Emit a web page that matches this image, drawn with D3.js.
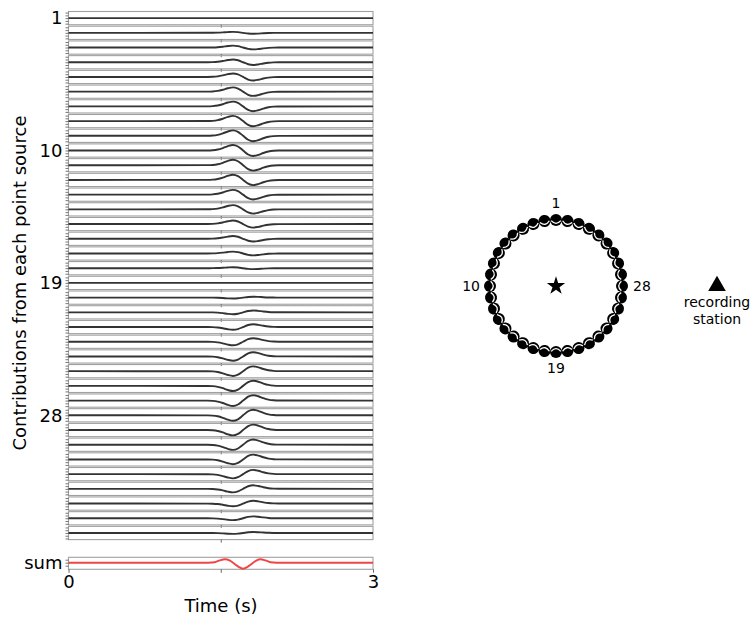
<!DOCTYPE html>
<html>
<head>
<meta charset="utf-8">
<script src="https://cdn.jsdelivr.net/npm/d3@7"></script>
<style>
  body { margin: 0; background: #fff; }
  svg { font-family: "DejaVu Sans", sans-serif; }
</style>
</head>
<body>
<div id="chart"></div>
<script>
// point sources around the circle, numbered counter-clockwise from the top
var sourceIds = [1,2,3,4,5,6,7,8,9,10,11,12,13,14,15,16,17,18,
                 19,20,21,22,23,24,25,26,27,28,29,30,31,32,33,34,35,36];
var labeledIds = [1, 10, 19, 28];

// peak amplitude of each contribution (sign = polarity)
var amplitudes = [0.00, 0.17, 0.34, 0.50, 0.64, 0.77, 0.87, 0.94, 0.98,
                  1.00, 0.98, 0.94, 0.87, 0.77, 0.64, 0.50, 0.34, 0.17,
                  0.00, -0.17, -0.34, -0.50, -0.64, -0.77, -0.87, -0.94, -0.98,
                  -1.00, -0.98, -0.94, -0.87, -0.77, -0.64, -0.50, -0.34, -0.17];

// azimuth of each source (degrees, counter-clockwise from north)
var azimuths = [0,10,20,30,40,50,60,70,80,90,100,110,120,130,140,150,160,170,
                180,190,200,210,220,230,240,250,260,270,280,290,300,310,320,330,340,350];

// arrival time (s) and wavelet shape
var arrivalTime = 1.72;
var waveletT = [-0.35, -0.3, -0.25, -0.2, -0.15, -0.1, -0.05, 0, 0.05, 0.1, 0.15, 0.2, 0.25, 0.3, 0.35];
var waveletV = [0.01, 0.05, 0.18, 0.45, 0.80, 1.00, 0.73, 0, -0.73, -1.00, -0.80, -0.45, -0.18, -0.05, -0.01];

// stacked sum
var sumT = [0, 1.38, 1.44, 1.49, 1.54, 1.59, 1.64, 1.68, 1.72, 1.76, 1.80, 1.85, 1.89, 1.94, 1.99, 2.05, 3];
var sumV = [0, 0, 0.08, 0.38, 0.57, 0.35, -0.25, -0.75, -1.0, -0.75, -0.25, 0.35, 0.57, 0.38, 0.08, 0, 0];

var timeTicks = [0, 1.5, 3];

var width = 753, height = 622;
var svg = d3.select("#chart").append("svg")
  .attr("width", width)
  .attr("height", height);

var xScale = d3.scaleLinear().domain([0, 3]).range([68.5, 373]);
var rowScale = d3.scaleBand().domain(sourceIds).range([11.5, 539.6]).paddingInner(0.1);
var bw = rowScale.bandwidth();
var yRow = d3.scaleLinear().domain([-1.2, 1.2]).range([bw, 0]);

var line = d3.line()
  .x(d => xScale(d[0]))
  .y(d => yRow(d[1]))
  .curve(d3.curveMonotoneX);

var rows = svg.selectAll(".row")
  .data(sourceIds)
  .enter().append("g")
  .attr("class", "row")
  .attr("transform", d => `translate(0,${rowScale(d)})`);

// frame
rows.append("rect")
  .attr("x", xScale(0))
  .attr("y", 0)
  .attr("width", xScale(3) - xScale(0))
  .attr("height", bw)
  .attr("fill", "none")
  .attr("stroke", "#a0a0a0")
  .attr("stroke-width", 1.1);

// traces
rows.append("path")
  .attr("fill", "none")
  .attr("stroke", "#333")
  .attr("stroke-width", 1.9)
  .attr("d", (d, i) => {
    var pts = [[0, 0]];
    waveletT.forEach((dt, j) => pts.push([arrivalTime + dt, amplitudes[i] * waveletV[j]]));
    pts.push([3, 0]);
    return line(pts);
  });

// left ticks, labels only at every 9th source
rows.each(function(id) {
  var g = d3.select(this);
  g.append("g")
    .attr("transform", `translate(${xScale(0)},0)`)
    .call(d3.axisLeft(yRow).tickValues([-1, -0.5, 0, 0.5, 1]).tickSize(3).tickPadding(3)
      .tickFormat(v => (v === 0 && labeledIds.includes(id)) ? id : ""))
    .call(a => a.select(".domain").remove())
    .call(a => a.selectAll("line").attr("stroke", "#555").attr("stroke-width", 0.8))
    .call(a => a.selectAll("text").attr("font-size", 18).attr("fill", "#000")
      .attr("font-family", "DejaVu Sans"));
  g.append("g")
    .attr("transform", `translate(0,${bw})`)
    .call(d3.axisBottom(xScale).tickValues([1.5]).tickSize(3).tickFormat(""))
    .call(a => a.select(".domain").remove())
    .call(a => a.selectAll("line").attr("stroke", "#444").attr("stroke-width", 0.8));
});

// sum panel
var sumTop = 557.3, sumH = 12;
var ySum = d3.scaleLinear().domain([-1.1, 0.9]).range([sumTop + sumH, sumTop]);
var sumG = svg.append("g");
sumG.append("rect")
  .attr("x", xScale(0)).attr("y", sumTop)
  .attr("width", xScale(3) - xScale(0)).attr("height", sumH)
  .attr("fill", "none").attr("stroke", "#a0a0a0").attr("stroke-width", 1.1);
sumG.append("path")
  .datum(sumT.map((t, i) => [t, sumV[i]]))
  .attr("fill", "none")
  .attr("stroke", "#f04545")
  .attr("stroke-width", 1.9)
  .attr("d", d3.line().x(d => xScale(d[0])).y(d => ySum(d[1])).curve(d3.curveMonotoneX));
sumG.append("g")
  .attr("transform", `translate(${xScale(0)},0)`)
  .call(d3.axisLeft(ySum).tickValues([-0.5, 0, 0.5]).tickSize(3).tickPadding(3)
    .tickFormat(v => v === 0 ? "sum" : ""))
  .call(a => a.select(".domain").remove())
  .call(a => a.selectAll("line").attr("stroke", "#555").attr("stroke-width", 0.8))
  .call(a => a.selectAll("text").attr("font-size", 18).attr("fill", "#000").attr("font-family", "DejaVu Sans"));
sumG.append("g")
  .attr("transform", `translate(0,${sumTop + sumH})`)
  .call(d3.axisBottom(xScale).tickValues(timeTicks).tickSize(3.5).tickPadding(2)
    .tickFormat(v => v === 1.5 ? "" : d3.format("d")(v)))
  .call(a => a.select(".domain").remove())
  .call(a => a.selectAll("line").attr("stroke", "#444").attr("stroke-width", 0.8))
  .call(a => a.selectAll("text").attr("font-size", 18).attr("fill", "#000").attr("font-family", "DejaVu Sans"));

svg.append("text")
  .attr("x", 221).attr("y", 612)
  .attr("text-anchor", "middle")
  .attr("font-size", 18)
  .text("Time (s)");

svg.append("text")
  .attr("transform", "translate(26,283) rotate(-90)")
  .attr("text-anchor", "middle")
  .attr("font-size", 18)
  .text("Contributions from each point source");

// map of sources around the circle
var cx = 556, cy = 286, ringR = 66, dotR = 6;
var rad = a => a * Math.PI / 180;
var mapG = svg.append("g");

var dots = mapG.selectAll(".src")
  .data(sourceIds)
  .enter().append("g")
  .attr("class", "src")
  .attr("transform", (d, i) => {
    var a = rad(azimuths[i]);
    return `translate(${cx - ringR * Math.sin(a)},${cy - ringR * Math.cos(a)}) rotate(${-azimuths[i]})`;
  });
dots.append("circle")
  .attr("r", dotR)
  .attr("fill", "#000");
dots.append("path")
  .attr("d", `M${-dotR * 0.8},${dotR * 0.1} Q0,${dotR * 1.0} ${dotR * 0.8},${dotR * 0.1}`)
  .attr("fill", "none")
  .attr("stroke", "#fff")
  .attr("stroke-width", 1.3);

var labelOffsets = { 1: [0, -17, "middle"], 10: [-10, 0, "end"], 19: [0, 16, "middle"], 28: [11, 0, "start"] };
mapG.selectAll(".srclabel")
  .data(labeledIds)
  .enter().append("text")
  .attr("class", "srclabel")
  .attr("x", d => {
    var a = rad(azimuths[d - 1]);
    return cx - ringR * Math.sin(a) + labelOffsets[d][0];
  })
  .attr("y", d => {
    var a = rad(azimuths[d - 1]);
    return cy - ringR * Math.cos(a) + labelOffsets[d][1];
  })
  .attr("dy", "0.35em")
  .attr("text-anchor", d => labelOffsets[d][2])
  .attr("font-size", 14)
  .text(d => d);

mapG.append("path")
  .attr("transform", `translate(${cx},${cy})`)
  .attr("d", d3.symbol().type(d3.symbolStar).size(105)())
  .attr("fill", "#000");

// recording station
mapG.append("path")
  .attr("transform", "translate(717,286)")
  .attr("d", d3.symbol().type(d3.symbolTriangle).size(135)())
  .attr("fill", "#000");
mapG.append("text")
  .attr("x", 717).attr("y", 307)
  .attr("text-anchor", "middle")
  .attr("font-size", 14)
  .text("recording");
mapG.append("text")
  .attr("x", 717).attr("y", 324)
  .attr("text-anchor", "middle")
  .attr("font-size", 14)
  .text("station");
</script>
</body>
</html>
